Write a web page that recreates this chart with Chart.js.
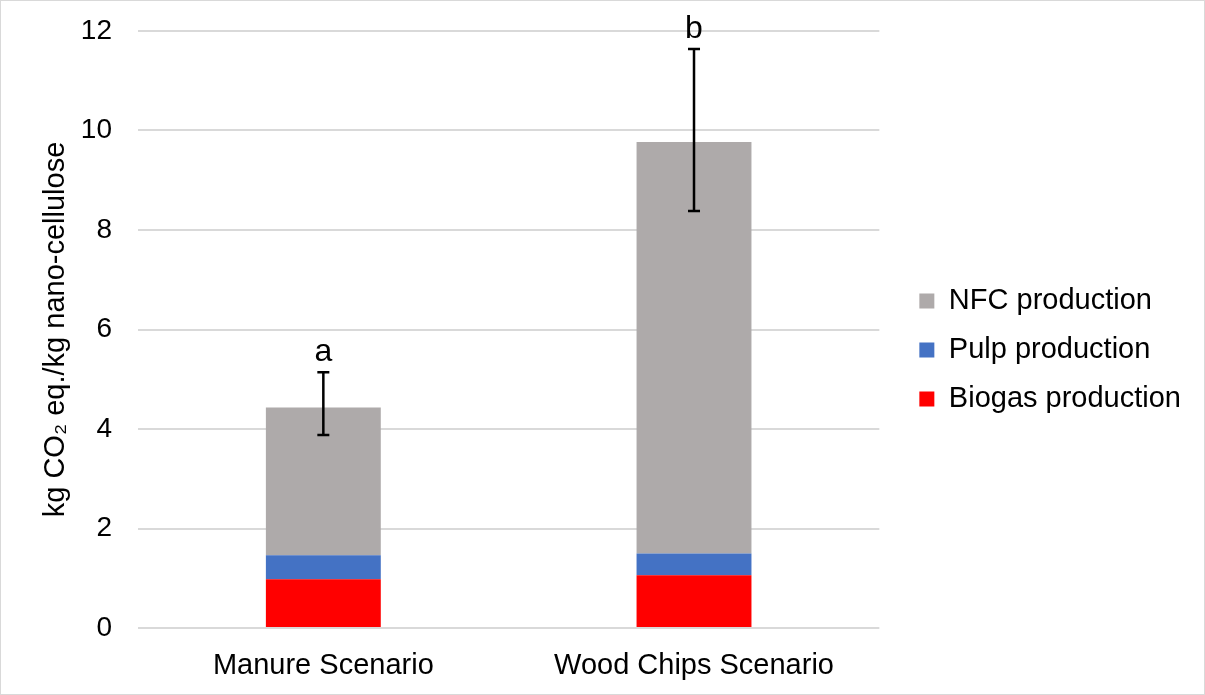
<!DOCTYPE html>
<html>
<head>
<meta charset="utf-8">
<script src="https://cdn.jsdelivr.net/npm/chart.js@4"></script>
<style>
  html, body { margin: 0; padding: 0; background: #fff; }
  #wrap { width: 1203px; height: 693px; border: 1px solid #d9d9d9; }
</style>
</head>
<body>
<div id="wrap"><canvas id="chart" width="1203" height="693"></canvas></div>
<script>
// Data
const scenarios = ['Manure Scenario', 'Wood Chips Scenario'];
const biogas = [0.98, 1.06];
const pulp = [0.48, 0.44];
const nfc = [2.97, 8.27];
const errHigh = [5.14, 11.64];
const errLow = [3.88, 8.38];
const sigLetters = ['a', 'b'];

const colors = {
    nfc: '#aeaaaa',
    pulp: '#4472c4',
    biogas: '#ff0000',
    grid: '#d9d9d9'
};

const fontFamily = 'Arial, "Liberation Sans", sans-serif';
Chart.defaults.font.family = fontFamily;
Chart.defaults.color = '#000';

// error bars + significance letters on top of the stacks
const errorBars = {
    id: 'errorBars',
    afterDatasetsDraw(chart) {
        const ctx = chart.ctx;
        const x = chart.scales.x;
        const y = chart.scales.y;
        ctx.save();
        ctx.strokeStyle = '#000';
        ctx.lineWidth = 2.5;
        scenarios.forEach((s, i) => {
            const cx = x.getPixelForValue(i);
            const top = y.getPixelForValue(errHigh[i]);
            const bot = y.getPixelForValue(errLow[i]);
            ctx.beginPath();
            ctx.moveTo(cx, top); ctx.lineTo(cx, bot);
            ctx.moveTo(cx - 6, top); ctx.lineTo(cx + 6, top);
            ctx.moveTo(cx - 6, bot); ctx.lineTo(cx + 6, bot);
            ctx.stroke();
            ctx.fillStyle = '#000';
            ctx.font = '32px ' + fontFamily;
            ctx.textAlign = 'center';
            ctx.textBaseline = 'alphabetic';
            ctx.fillText(sigLetters[i], cx, top - 11);
        });
        ctx.restore();
    }
};

new Chart(document.getElementById('chart'), {
    type: 'bar',
    data: {
        labels: scenarios,
        datasets: [{
            label: 'Biogas production',
            data: biogas,
            backgroundColor: colors.biogas
        }, {
            label: 'Pulp production',
            data: pulp,
            backgroundColor: colors.pulp
        }, {
            label: 'NFC production',
            data: nfc,
            backgroundColor: colors.nfc
        }]
    },
    options: {
        responsive: false,
        animation: false,
        devicePixelRatio: 1,
        categoryPercentage: 1,
        barPercentage: 0.31,
        layout: {
            padding: { top: 5, left: 34, right: 13, bottom: 0 }
        },
        plugins: {
            legend: {
                position: 'right',
                reverse: true,
                maxWidth: 320,
                labels: {
                    boxWidth: 15,
                    boxHeight: 15,
                    padding: 20,
                    font: { size: 29 }
                }
            },
            tooltip: { enabled: false }
        },
        scales: {
            x: {
                stacked: true,
                grid: { display: false },
                border: { display: false },
                ticks: { font: { size: 29 }, padding: 13 },
                afterFit(scale) { scale.height = 66; }
            },
            y: {
                stacked: true,
                min: 0,
                max: 12,
                ticks: { stepSize: 2, font: { size: 28 }, padding: 26 },
                grid: { color: colors.grid, lineWidth: 2, drawTicks: false },
                border: { display: false },
                title: {
                    display: true,
                    text: 'kg CO₂ eq./kg nano-cellulose',
                    font: { size: 29 },
                    padding: { top: 4, bottom: 0 }
                },
                afterFit(scale) {
                    scale.width = 103;
                    scale.paddingTop = 30;
                    scale.paddingBottom = 0;
                }
            },
            // empty spacer between plot and legend
            gap: {
                position: 'right',
                grid: { display: false },
                border: { display: false },
                ticks: { display: false },
                afterFit(scale) { scale.width = 20; }
            }
        }
    },
    plugins: [errorBars]
});
</script>
</body>
</html>
